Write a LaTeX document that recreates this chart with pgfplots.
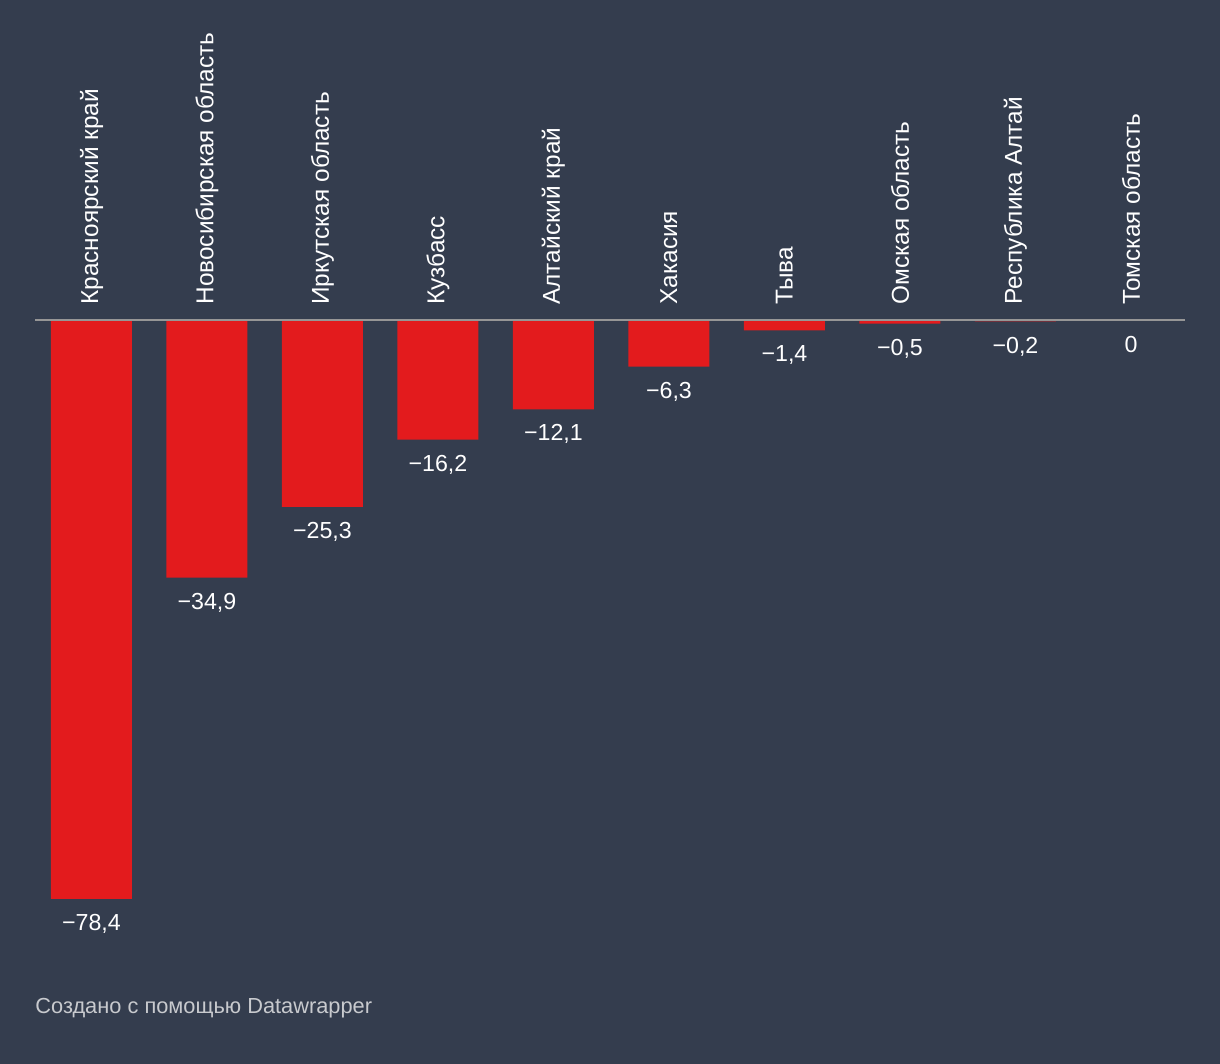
\documentclass[border=0pt]{standalone}
\usepackage{fontspec}
\setmainfont{Liberation Sans}
\usepackage{pgfplots}
\pgfplotsset{compat=1.18}
\definecolor{bgdark}{RGB}{52,61,78}
\definecolor{barred}{RGB}{227,27,29}
\definecolor{zeroline}{RGB}{150,150,150}
\definecolor{foot}{RGB}{200,202,206}
\begin{document}
\begin{tikzpicture}
% 1 px of the reference = 0.5pt
\fill[bgdark] (0,0) rectangle (610pt,532pt);
\path[use as bounding box] (0,0) rectangle (610pt,532pt);
\begin{axis}[
  at={(17.5pt,82.5pt)}, anchor=south west,
  width=575pt, height=289.5pt,
  scale only axis,
  clip=false,
  axis on top,
  axis x line*=top,
  axis y line=none,
  x axis line style={-, draw=zeroline, line width=1pt},
  xmin=-0.489, xmax=9.468,
  ymin=-78.4, ymax=0,
  ytick=\empty,
  xtick={0,...,9},
  major tick length=0pt,
  xticklabels={Красноярский край,Новосибирская область,Иркутская область,Кузбасс,Алтайский край,Хакасия,Тыва,Омская область,Республика Алтай,Томская область},
  xticklabel style={rotate=90, anchor=west, font=\fontsize{12.2}{14}\selectfont, text=white, inner sep=0pt, xshift=7.5pt},
  ybar, bar width=40.5pt, bar shift=0pt,
  point meta=explicit symbolic,
  nodes near coords,
  every node near coord/.append style={anchor=center, yshift=-12.5pt, font=\fontsize{11.6}{13}\selectfont, text=white},
]
\addplot[fill=barred, draw=none] coordinates {
  (0,-78.4) [−78,4]
  (1,-34.9) [−34,9]
  (2,-25.3) [−25,3]
  (3,-16.2) [−16,2]
  (4,-12.1) [−12,1]
  (5,-6.3) [−6,3]
  (6,-1.4) [−1,4]
  (7,-0.5) [−0,5]
  (8,-0.2) [−0,2]
  (9,0) [0]
};
\end{axis}
\node[anchor=base west, text=foot, font=\fontsize{10.9}{12}\selectfont, inner sep=0pt] at (17.5pt,25pt) {Создано с помощью Datawrapper};
\end{tikzpicture}
\end{document}
